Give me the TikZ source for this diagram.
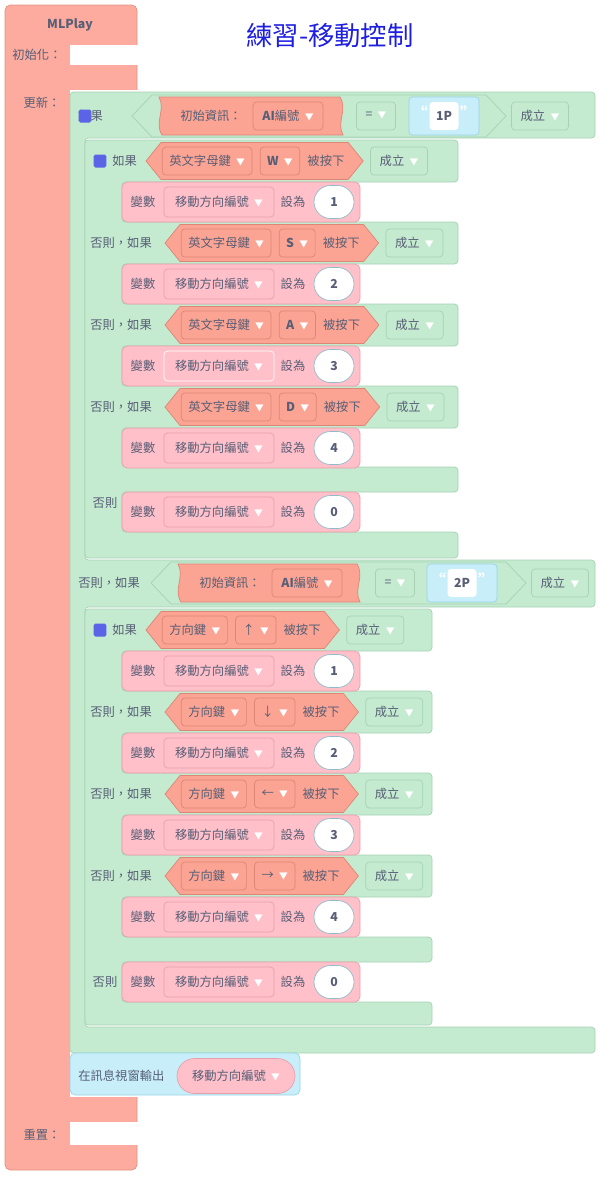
\documentclass[tikz,border=0pt]{standalone}
\usepackage{fontspec}
\setmainfont{Noto Sans CJK TC}
\usetikzlibrary{positioning}
\pgfdeclarelayer{bg}
\pgfdeclarelayer{mid}
\pgfsetlayers{bg,mid,main}
\definecolor{txt}{HTML}{575E75}
\definecolor{mlc}{HTML}{FCAB9E}
\definecolor{mld}{HTML}{E0907F}
\definecolor{keyc}{HTML}{FBA494}
\definecolor{keyd}{HTML}{DD8676}
\definecolor{grn}{HTML}{C4EAD0}
\definecolor{grnd}{HTML}{A6D2B3}
\definecolor{pnk}{HTML}{FFC0CA}
\definecolor{pnkd}{HTML}{E6A0AC}
\definecolor{blu}{HTML}{C8EEFA}
\definecolor{blud}{HTML}{98D4E8}
\definecolor{gearc}{HTML}{5B63E6}
\tikzset{
  lbl/.style={text=txt, font=\fontsize{7}{8}\selectfont, inner sep=0pt},
  dd/.style={lbl, rounded corners=2pt, minimum height=0.56cm, inner xsep=4pt},
  ddk/.style={dd, fill=keyc, draw=keyd},
  ddg/.style={dd, fill=grn, draw=grnd, minimum width=1.14cm},
  ddp/.style={dd, fill=pnk, draw=pnkd, minimum height=0.6cm},
  num/.style={lbl, font=\fontsize{7}{8}\selectfont\bfseries, fill=white, draw=blud!70!gray,
    rounded corners=0.33cm, minimum width=0.8cm, minimum height=0.66cm},
  gear/.style={fill=gearc, rounded corners=1pt, minimum size=0.26cm, inner sep=0pt},
  grnblk/.style={fill=grn, draw=grnd, rounded corners=2pt},
  setblk/.style={fill=pnk, draw=pnkd, rounded corners=3pt},
  keyblk/.style={fill=keyc, draw=keyd}
}
\newcommand\dn{\hspace{3pt}{\color{white}\fontsize{5}{5}\selectfont▼}}
% key test row: name, y, tip x, key, direction
\newcommand\keyrow[5]{%
  \coordinate (#1a) at (#3,#2);
  \node[ddk, right=0.32cm of #1a] (#1k) {#4\dn};
  \node[ddk, right=0.15cm of #1k] (#1d) {#5\dn};
  \node[lbl, right=0.14cm of #1d] (#1p) {被按下};
  \coordinate[right=0.37cm of #1p] (#1b);
  \node[ddg, right=0.14cm of #1b] (#1t) {成立\dn};
  \begin{pgfonlayer}{mid}
    \draw[keyblk] (#1a) -- ([xshift=0.3cm,yshift=0.37cm]#1a) -- ([xshift=-0.3cm,yshift=0.37cm]#1b)
      -- (#1b) -- ([xshift=-0.3cm,yshift=-0.37cm]#1b) -- ([xshift=0.3cm,yshift=-0.37cm]#1a) -- cycle;
  \end{pgfonlayer}}
% set row: name, y top, value, dropdown border
\newcommand\setrow[4]{%
  \begin{pgfonlayer}{mid}\draw[setblk] (122,#2) rectangle (360,#2+40);\end{pgfonlayer}
  \node[lbl] (#1l) at (143,#2+20) {變數};
  \node[ddp, minimum width=2.2cm, draw=#4] (#1v) at (219,#2+20) {移動方向編號\dn};
  \node[lbl] (#1s) at (293,#2+20) {設為};
  \node[num] (#1n) at (334,#2+20) {#3};}

\begin{document}
\begin{tikzpicture}[x=0.02cm, y=-0.02cm]
\useasboundingbox (0,0) rectangle (607,1177);
% MLPlay frame
\begin{pgfonlayer}{bg}
  \draw[fill=mlc, draw=mld, rounded corners=3pt] (5,5) rectangle (137,1170);
  \fill[white] (70,45) rectangle (138.5,65);
  \fill[white] (70,90) rectangle (138.5,1097);
  \fill[white] (70,1122) rectangle (138.5,1145);
  % outer if
  \draw[grnblk] (70,92) -- (595,92) -- (595,138) -- (85,138) -- (85,560) -- (595,560)
    -- (595,607) -- (85,607) -- (85,1027) -- (595,1027) -- (595,1053) -- (70,1053) -- cycle;
  % WASD if
  \draw[grnblk] (85,140) -- (458,140) -- (458,182) -- (122,182) -- (122,222) -- (458,222)
    -- (458,264) -- (122,264) -- (122,304) -- (458,304) -- (458,346) -- (122,346)
    -- (122,386) -- (458,386) -- (458,428) -- (122,428) -- (122,467) -- (458,467)
    -- (458,492) -- (122,492) -- (122,532) -- (458,532) -- (458,558) -- (85,558) -- cycle;
  % arrow keys if
  \draw[grnblk] (85,609) -- (432,609) -- (432,651) -- (122,651) -- (122,691) -- (432,691)
    -- (432,733) -- (122,733) -- (122,773) -- (432,773) -- (432,815) -- (122,815)
    -- (122,855) -- (432,855) -- (432,897) -- (122,897) -- (122,937) -- (432,937)
    -- (432,962) -- (122,962) -- (122,1002) -- (432,1002) -- (432,1025) -- (85,1025) -- cycle;
  % print block
  \draw[fill=blu, draw=blud, rounded corners=3pt] (70,1053) rectangle (300,1095);
\end{pgfonlayer}

\node[lbl, font=\fontsize{7}{8}\selectfont\bfseries] (title) at (70,25) {MLPlay};
\node[lbl] (init) at (37,55) {初始化：};
\node[lbl] (upd) at (42,103) {更新：};
\node[lbl] (reset) at (42,1135) {重置：};
\node[text={rgb,255:red,30;green,30;blue,225}, font=\fontsize{15}{17}\selectfont] (head) at (330,35) {練習-移動控制};

% player checks
\foreach \n/\y/\tx/\lx/\lab/\sx/\ex/\ax/\eqx/\stx/\okx/\pl in
  {p1/116/132/78/如果/159/343/288/376/444/540/1P, p2/583/151/78/否則，如果/178/360/307/395/462/560/2P}{
  \node[lbl, anchor=west] (\n l) at (\lx,\y) {\lab};
  \node[lbl] (\n i) at (\sx+52,\y) {初始資訊：};
  \node[ddk, minimum width=1.4cm] (\n a) at (\ax,\y) {\textbf{AI}編號\dn};
  \node[ddg, minimum width=0.78cm] (\n e) at (\eqx,\y) {=\dn};
  \node[lbl, fill=white, minimum width=0.58cm, minimum height=0.56cm, rounded corners=2pt,
    font=\fontsize{7}{8}\selectfont\bfseries] (\n s) at (\stx,\y) {\pl};
  \node[lbl, text=white, font=\fontsize{9}{9}\selectfont\bfseries] (\n q) at (\stx-24,\y-3) {“};
  \node[lbl, text=white, font=\fontsize{9}{9}\selectfont\bfseries] (\n r) at (\stx+24,\y-3) {”};
  \node[ddg] (\n t) at (\okx,\y) {成立\dn};
  \begin{pgfonlayer}{mid}
    \draw[grnblk, rounded corners=0pt] (\tx,\y) -- (\tx+20,\y-21) -- (\okx-54,\y-21)
      -- (\okx-34,\y) -- (\okx-54,\y+21) -- (\tx+20,\y+21) -- cycle;
    \draw[keyblk] (\sx,\y-19) -- (\ex-3,\y-19) .. controls (\ex+5,\y-6) and (\ex-7,\y+6) .. (\ex,\y+19)
      -- (\sx+3,\y+19) .. controls (\sx-5,\y+6) and (\sx+7,\y-6) .. (\sx,\y-19) -- cycle;
    \draw[fill=blu, draw=blud, rounded corners=2pt] (\stx-35,\y-19) rectangle (\stx+35,\y+19);
  \end{pgfonlayer}
}
\node[gear] (g0) at (85,116) {};
\fill[white] (g0) circle (0.055);

% WASD
\node[gear] (g1) at (100,161) {};
\fill[white] (g1) circle (0.055);
\node[lbl, anchor=west] (w0) at (112,161) {如果};
\keyrow{kw}{161}{146}{英文字母鍵}{\textbf{W}}
\setrow{sw}{182}{1}{pnkd}
\node[lbl, anchor=west] (s0) at (90,243) {否則，如果};
\keyrow{ks}{243}{165}{英文字母鍵}{\textbf{S}}
\setrow{ss}{264}{2}{pnkd}
\node[lbl, anchor=west] (a0) at (90,325) {否則，如果};
\keyrow{ka}{325}{165}{英文字母鍵}{\textbf{A}}
\setrow{sa}{346}{3}{white}
\node[lbl, anchor=west] (d0) at (90,407) {否則，如果};
\keyrow{kd}{407}{165}{英文字母鍵}{\textbf{D}}
\setrow{sd}{428}{4}{pnkd}
\node[lbl] (e0) at (105,503) {否則};
\setrow{se}{492}{0}{pnkd}

% arrow keys
\node[gear] (g2) at (100,630) {};
\fill[white] (g2) circle (0.055);
\node[lbl, anchor=west] (u0) at (112,630) {如果};
\keyrow{ku}{630}{146}{方向鍵}{↑}
\setrow{su}{651}{1}{pnkd}
\node[lbl, anchor=west] (n0) at (90,712) {否則，如果};
\keyrow{kn}{712}{165}{方向鍵}{↓}
\setrow{sn}{733}{2}{pnkd}
\node[lbl, anchor=west] (l0) at (90,794) {否則，如果};
\keyrow{kl}{794}{165}{方向鍵}{←}
\setrow{sl}{815}{3}{pnkd}
\node[lbl, anchor=west] (r0) at (90,876) {否則，如果};
\keyrow{kr}{876}{165}{方向鍵}{→}
\setrow{sr}{897}{4}{pnkd}
\node[lbl] (f0) at (105,982) {否則};
\setrow{sf}{962}{0}{pnkd}

% print
\node[lbl, anchor=west] (out) at (78,1076) {在訊息視窗輸出};
\node[dd, fill=pnk, draw=pnkd, rounded corners=0.35cm, minimum width=2.36cm, minimum height=0.7cm]
  (outv) at (236,1076) {移動方向編號\dn};
\end{tikzpicture}
\end{document}
